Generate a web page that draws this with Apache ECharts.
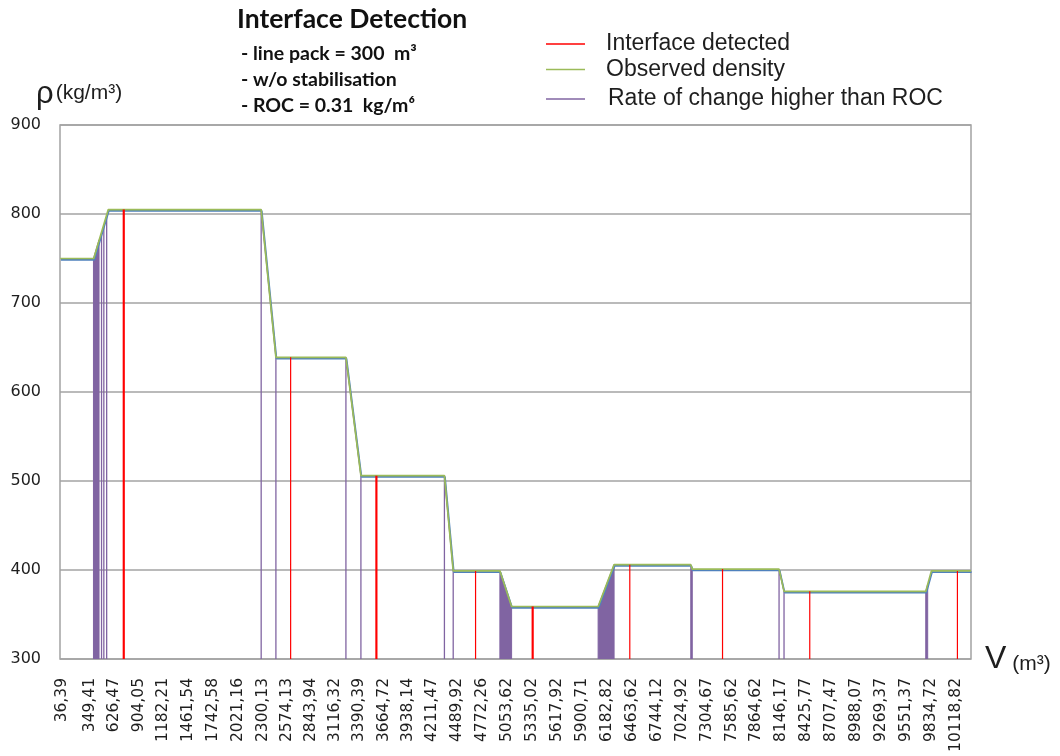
<!DOCTYPE html>
<html>
<head>
<meta charset="utf-8">
<script src="https://cdn.jsdelivr.net/npm/echarts@6/dist/echarts.min.js"></script>
<style>
  html, body { margin: 0; padding: 0; background: #ffffff; }
  #chart { width: 1060px; height: 756px; }
</style>
</head>
<body>
<div id="chart"></div>
<script>
// Volume (m³) labels printed along the horizontal axis
const tickVolumes = [36.39, 349.41, 626.47, 904.05, 1182.21, 1461.54, 1742.58, 2021.16,
  2300.13, 2574.13, 2843.94, 3116.32, 3390.39, 3664.72, 3938.14, 4211.47, 4489.92,
  4772.26, 5053.62, 5335.02, 5617.92, 5900.71, 6182.82, 6463.62, 6744.12, 7024.92,
  7304.67, 7585.62, 7864.62, 8146.17, 8425.77, 8707.47, 8988.07, 9269.37, 9551.37,
  9834.72, 10118.82];

// Observed density profile: corner points of plateaus and ramps
const densityV   = [20, 397, 561, 2284, 2450, 3239, 3408, 4349, 4448, 4974, 5106, 6081, 6261, 7125, 7142, 8120, 8176, 9773, 9837, 10283];
const densityRho = [750, 750, 805, 805, 639, 639, 506, 506, 399, 399, 359, 359, 406, 406, 401, 401, 376, 376, 399, 399];

// Samples where an interface was detected (volume, density at detection)
const interfaceV   = [730, 741, 2616, 3577, 3588, 4700, 5338, 5349, 6438, 7483, 8466, 10130];
const interfaceRho = [805, 805, 639, 506, 506, 399, 359, 359, 406, 401, 376, 399];

// Stretches where the rate of change exceeds ROC, densely flagged (every sample)
const denseRocFromV   = [394, 4974, 6081, 7125, 9773];
const denseRocFromRho = [750, 399, 359, 406, 376];
const denseRocToV     = [457, 5106, 6261, 7142, 9795];
const denseRocToRho   = [771, 359, 406, 401, 384];

// Stretches flagged only at their ends (or single samples)
const sparseRocFromV   = [485, 511, 543, 2284, 3239, 4349, 8120];
const sparseRocFromRho = [779, 788, 799, 805, 639, 506, 401];
const sparseRocToV     = [485, 511, 543, 2450, 3408, 4448, 8176];
const sparseRocToRho   = [779, 788, 799, 639, 506, 399, 376];

const RHO_MIN = 300, RHO_MAX = 900, RHO_STEP = 100;
const V_MIN = 17, V_MAX = 10283;

const NAME_IFACE = 'Interface detected';
const NAME_DENS = 'Observed density';
const NAME_ROC = 'Rate of change higher than ROC';

// Each flagged stretch: rise from the floor, follow the profile, drop back down
function stretchPath(fromV, fromRho, toV, toRho) {
  const pts = [];
  fromV.forEach((v, i) => {
    pts.push([v, RHO_MIN], [v, fromRho[i]], [toV[i], toRho[i]], [toV[i], RHO_MIN], [toV[i], '-']);
  });
  return pts;
}

// Vertical marker from the floor up to the detected density
function spikePath(vs, rhos) {
  const pts = [];
  vs.forEach((v, i) => { pts.push([v, RHO_MIN], [v, rhos[i]], [v, '-']); });
  return pts;
}

const fmtVolume = v => v.toFixed(2).replace('.', ',');

const TXT = '#1e1e1e';
const GRIDC = '#a3a3a3';

const chart = echarts.init(document.getElementById('chart'), null, { renderer: 'canvas' });
chart.setOption({
  animation: false,
  backgroundColor: '#ffffff',
  title: [
    { text: 'Interface Detection', left: 237, top: 6, padding: 0,
      textStyle: { fontFamily: 'Lato', fontWeight: 'bold', fontSize: 26.5, color: '#111' } },
    { text: '- line pack = 300  m³\n- w/o stabilisation\n- ROC = 0.31  kg/m⁶', left: 241, top: 41, padding: 0,
      textStyle: { fontFamily: 'Lato', fontWeight: 'bold', fontSize: 19.5, lineHeight: 26, color: '#111' } },
    { text: '{r|ρ}{u|(kg/m³)}', left: 36, top: 79, padding: 0,
      textStyle: { fontWeight: 'normal', rich: {
        r: { fontFamily: 'Liberation Sans', fontWeight: 'normal', fontSize: 31, color: TXT, verticalAlign: 'middle' },
        u: { fontFamily: 'Liberation Sans', fontWeight: 'normal', fontSize: 21, color: TXT, verticalAlign: 'middle', padding: [0, 0, 3, 2] } } } },
    { text: '{v|V}{u| (m³)}', left: 985, top: 643, padding: 0,
      textStyle: { fontWeight: 'normal', rich: {
        v: { fontFamily: 'Liberation Sans', fontWeight: 'normal', fontSize: 32, color: TXT, verticalAlign: 'bottom' },
        u: { fontFamily: 'Liberation Sans', fontWeight: 'normal', fontSize: 21, color: TXT, verticalAlign: 'bottom' } } } }
  ],
  legend: [
    { data: [NAME_IFACE], left: 546, top: 31, padding: 0, icon: 'rect', itemWidth: 39, itemHeight: 1.5,
      textStyle: { fontFamily: 'Liberation Sans', fontSize: 23, color: TXT, lineHeight: 24, padding: [2, 0, 0, 16] } },
    { data: [NAME_DENS], left: 546, top: 57, padding: 0, icon: 'rect', itemWidth: 39, itemHeight: 1.5,
      textStyle: { fontFamily: 'Liberation Sans', fontSize: 23, color: TXT, lineHeight: 24, padding: [1, 0, 0, 16] } },
    { data: [NAME_ROC], left: 546, top: 85, padding: 0, icon: 'rect', itemWidth: 39, itemHeight: 1.5,
      textStyle: { fontFamily: 'Liberation Sans', fontSize: 23, color: TXT, lineHeight: 24, padding: [4, 0, 0, 18] } }
  ],
  grid: { left: 60, right: 89, top: 125, bottom: 97, show: true, borderColor: GRIDC, borderWidth: 1.5, backgroundColor: 'transparent' },
  xAxis: {
    type: 'value', min: V_MIN, max: V_MAX,
    axisLine: { show: false }, axisTick: { show: false }, splitLine: { show: false },
    axisLabel: {
      customValues: tickVolumes, rotate: 90, margin: 19, formatter: fmtVolume,
      fontFamily: 'DejaVu Sans', fontSize: 15.5, color: TXT
    }
  },
  yAxis: {
    type: 'value', min: RHO_MIN, max: RHO_MAX, interval: RHO_STEP,
    axisLine: { show: false }, axisTick: { show: false },
    splitLine: { lineStyle: { color: GRIDC, width: 1.5 } },
    axisLabel: { margin: 19, fontFamily: 'DejaVu Sans', fontSize: 16, color: TXT }
  },
  series: [
    { name: NAME_ROC, type: 'line', color: '#8064a2', symbol: 'none', z: 2, silent: true,
      data: stretchPath(denseRocFromV, denseRocFromRho, denseRocToV, denseRocToRho),
      lineStyle: { color: '#8064a2', width: 1 },
      areaStyle: { color: '#8064a2', opacity: 1, origin: 'start' } },
    { name: NAME_ROC, type: 'line', color: '#8064a2', symbol: 'none', z: 2, silent: true,
      data: stretchPath(sparseRocFromV, sparseRocFromRho, sparseRocToV, sparseRocToRho),
      lineStyle: { color: '#8064a2', width: 1.3 } },
    { name: NAME_DENS, type: 'line', color: '#9bbb59', symbol: 'none', z: 3, silent: true,
      data: densityV.map((v, i) => [v, densityRho[i]]),
      lineStyle: { color: '#9bbb59', width: 1.7, shadowColor: '#4f81bd', shadowBlur: 0, shadowOffsetX: 0.6, shadowOffsetY: 1.3 } },
    { name: NAME_IFACE, type: 'line', color: '#ff0000', symbol: 'none', z: 4, silent: true,
      data: spikePath(interfaceV, interfaceRho),
      lineStyle: { color: '#ff0000', width: 1.2 } }
  ]
});
</script>
</body>
</html>
